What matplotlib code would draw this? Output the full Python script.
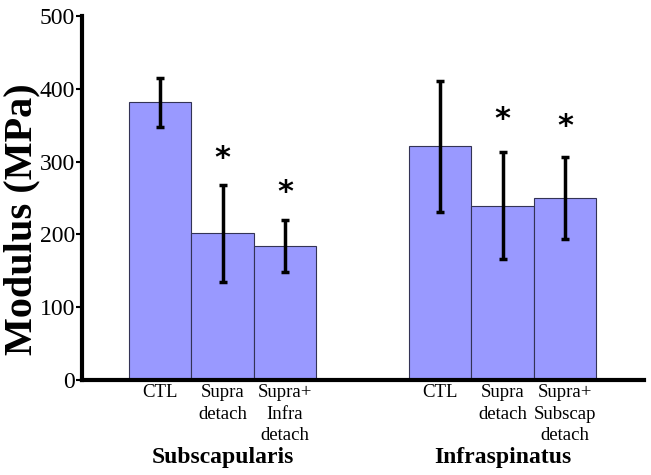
import matplotlib.pyplot as plt

# data
groups = ['Subscapularis', 'Infraspinatus']
labels_sub = ['CTL', 'Supra\ndetach', 'Supra+\nInfra\ndetach']
labels_inf = ['CTL', 'Supra\ndetach', 'Supra+\nSubscap\ndetach']
means_sub = [382, 202, 184]
err_lo_sub = [34, 67, 36]
err_hi_sub = [33, 66, 36]
means_inf = [321, 239, 250]
err_lo_inf = [90, 73, 56]
err_hi_inf = [90, 74, 56]
star_sub = [None, 305, 258]
star_inf = [None, 358, 348]

plt.rcParams['font.family'] = ['Liberation Serif', 'DejaVu Serif']

fig = plt.figure(figsize=(6.51, 4.75), dpi=100)
ax = fig.add_axes([0.126, 0.2, 0.864, 0.766])

pos_sub = [1.25, 2.25, 3.25]
pos_inf = [5.73, 6.73, 7.73]

for pos, means, lo, hi, stars in [(pos_sub, means_sub, err_lo_sub, err_hi_sub, star_sub),
                                  (pos_inf, means_inf, err_lo_inf, err_hi_inf, star_inf)]:
    ax.bar(pos, means, width=1.0, color='#9999ff', edgecolor='#333355', linewidth=0.8, zorder=2)
    ax.errorbar(pos, means, yerr=[lo, hi], fmt='none', ecolor='black', elinewidth=2.5,
                capsize=3, capthick=2.5, zorder=3)
    for x, s in zip(pos, stars):
        if s is not None:
            ax.text(x, s, '*', ha='center', va='center', fontsize=22,
                    family='DejaVu Sans', fontweight='bold')

ax.set_xlim(0, 9.0)
ax.set_ylim(0, 500)
ax.set_yticks([0, 100, 200, 300, 400, 500])
ax.tick_params(axis='y', labelsize=17, length=4, width=1.5, pad=1)
ax.set_xticks([])
ax.spines['top'].set_visible(False)
ax.spines['right'].set_visible(False)
ax.spines['left'].set_linewidth(3)
ax.spines['bottom'].set_linewidth(3)

fig.text(22 / 651, 1 - 219 / 475, 'Modulus (MPa)', rotation=90, ha='center', va='center',
         fontsize=29, fontweight='bold')

for pos, labs in [(pos_sub, labels_sub), (pos_inf, labels_inf)]:
    for x, t in zip(pos, labs):
        ax.text(x, -6, t, ha='center', va='top', fontsize=13.5, linespacing=1.35)

ax.text(2.25, -107, groups[0], ha='center', va='center', fontsize=17, fontweight='bold')
ax.text(6.73, -107, groups[1], ha='center', va='center', fontsize=17, fontweight='bold')

fig.savefig('out.png', dpi=100)
